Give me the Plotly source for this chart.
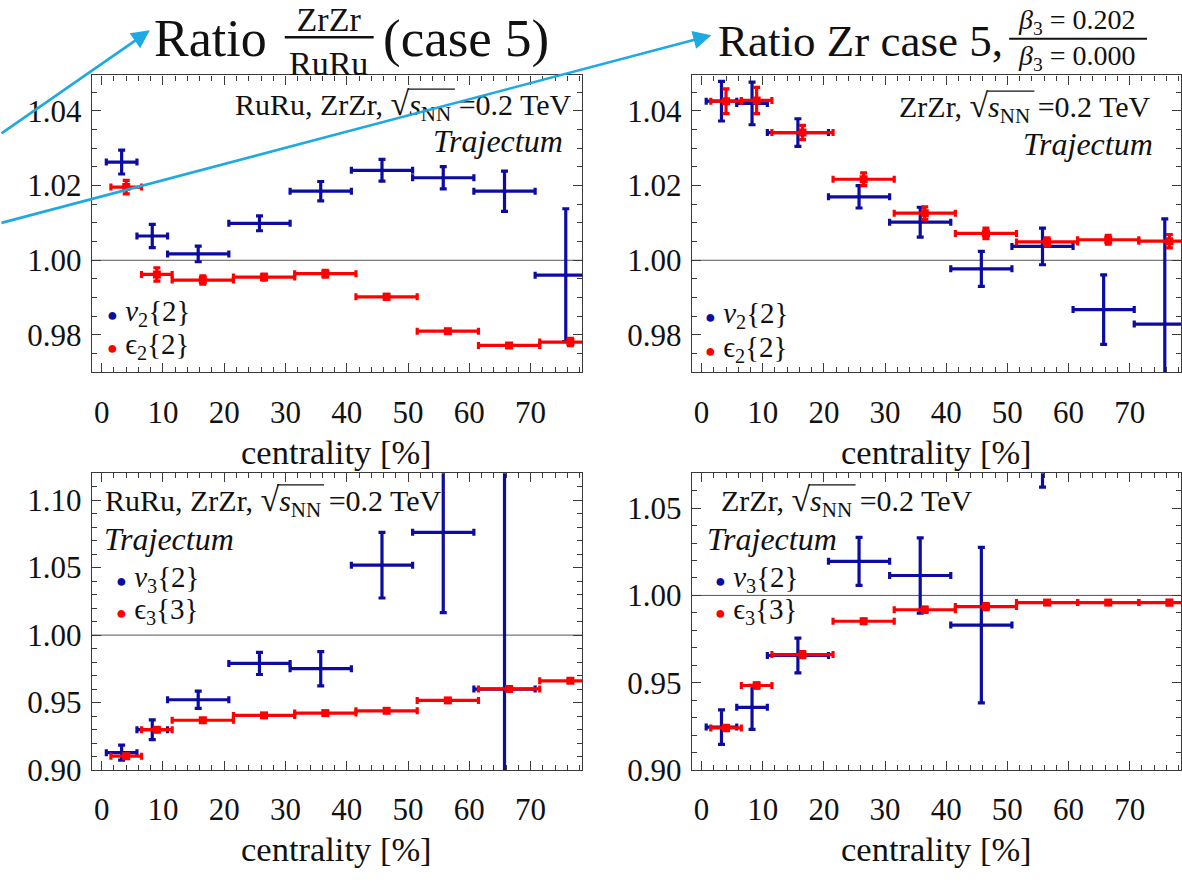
import plotly.graph_objects as go

W, H = 1182, 886
FONT = "Liberation Serif"
BLUE = "#0c0ca2"
RED = "#ff0000"
CYAN = "#1ea9e2"
FRAME = "#3a3a3a"

# ---------------- data ----------------
bin_lo = [0, 5, 10, 20, 30, 40, 50, 60, 70]
bin_hi = [5, 10, 20, 30, 40, 50, 60, 70, 80]

# ratio ZrZr/RuRu (case 5): v2{2} and eps2{2}
tl_v2 = [1.0263, 1.0065, 1.0017, 1.0099, 1.0185, 1.0241, 1.0221, 1.0185, 0.9960]
tl_v2_err = [0.0032, 0.0031, 0.0021, 0.0020, 0.0026, 0.0029, 0.0030, 0.0054, 0.0178]
tl_e2 = [1.0196, 0.9962, 0.9947, 0.9955, 0.9964, 0.9902, 0.9810, 0.9772, 0.9781]
tl_e2_err = [0.0018, 0.0018, 0.0011, 0.0008, 0.0009, 0.0007, 0.0005, 0.0004, 0.0010]

# ratio Zr case 5, beta3=0.202 / beta3=0.000: v2{2} and eps2{2}
tr_v2 = [1.0426, 1.0420, 1.0342, 1.0170, 1.0102, 0.9977, 1.0037, 0.9868, 0.9829]
tr_v2_err = [0.0053, 0.0057, 0.0037, 0.0030, 0.0040, 0.0047, 0.0049, 0.0093, 0.0282]
tr_e2 = [1.0426, 1.0428, 1.0342, 1.0217, 1.0126, 1.0072, 1.0049, 1.0055, 1.0051]
tr_e2_err = [0.0033, 0.0035, 0.0019, 0.0017, 0.0017, 0.0014, 0.0011, 0.0012, 0.0018]

# ratio ZrZr/RuRu (case 5): v3{2} and eps3{3}
bl_v3 = [0.9129, 0.9299, 0.9521, 0.9790, 0.9751, 1.0518, 1.0762, 0.9600, None]
bl_v3_err = [0.0056, 0.0073, 0.0064, 0.0082, 0.0127, 0.0243, 0.0595, 0.2000, None]
bl_e3 = [0.9103, 0.9299, 0.9369, 0.9405, 0.9422, 0.9439, 0.9516, 0.9601, 0.9661]
bl_e3_err = [0.0015, 0.0015, 0.0010, 0.0010, 0.0010, 0.0008, 0.0007, 0.0010, 0.0012]

# ratio Zr case 5: v3{2} and eps3{3}
br_v3 = [0.9246, 0.9359, 0.9656, 1.0195, 1.0114, 0.9830, 1.1050, None, None]
br_v3_err = [0.0099, 0.0126, 0.0100, 0.0137, 0.0215, 0.0445, 0.0430, None, None]
br_e3 = [0.9241, 0.9484, 0.9661, 0.9852, 0.9918, 0.9936, 0.9959, 0.9959, 0.9959]
br_e3_err = [0.0015, 0.0015, 0.0017, 0.0012, 0.0015, 0.0017, 0.0008, 0.0009, 0.0013]

x_ticks = [0, 10, 20, 30, 40, 50, 60, 70]
y_ticks_top = [0.98, 1.00, 1.02, 1.04]
y_ticks_bot = [0.90, 0.95, 1.00, 1.05, 1.10]
y_ticks_br = [0.90, 0.95, 1.00, 1.05]

# ---------------- layout helpers ----------------
V_SHIFT, E_SHIFT = 0.75, 1.5
mid = [(a + b) / 2 for a, b in zip(bin_lo, bin_hi)]
half = [(b - a) / 2 for a, b in zip(bin_lo, bin_hi)]


def px(x):
    return x / W


def py(y):
    return 1 - y / H


fig = go.Figure()


def add_series(vals, errs, shift, color, msym, msize, xa, ya):
    xs, ys, ex, ey = [], [], [], []
    for m, h, v, e in zip(mid, half, vals, errs):
        if v is None:
            continue
        xs.append(m + shift)
        ys.append(v)
        ex.append(h)
        ey.append(e)
    fig.add_trace(go.Scatter(
        x=xs, y=ys, mode="markers", xaxis=xa, yaxis=ya,
        marker=dict(color=color, size=msize, symbol=msym),
        error_x=dict(type="data", array=ex, color=color, thickness=3.2, width=3.5),
        error_y=dict(type="data", array=ey, color=color, thickness=3.2, width=3.5),
        showlegend=False, hoverinfo="skip"))


panels = [
    ("x", "y", tl_v2, tl_v2_err, tl_e2, tl_e2_err),
    ("x2", "y2", tr_v2, tr_v2_err, tr_e2, tr_e2_err),
    ("x3", "y3", bl_v3, bl_v3_err, bl_e3, bl_e3_err),
    ("x4", "y4", br_v3, br_v3_err, br_e3, br_e3_err),
]
for xa, ya, bv, bve, rv, rve in panels:
    add_series(bv, bve, V_SHIFT, BLUE, "circle", 4, xa, ya)
    add_series(rv, rve, E_SHIFT, RED, "square", 8, xa, ya)

tickfont = dict(family=FONT, size=31, color="#111111")


def xaxis(domain, anchor):
    return dict(domain=domain, anchor=anchor, range=[-1.6, 78.4],
                tickvals=x_ticks, ticktext=[str(t) for t in x_ticks],
                showline=True, linecolor=FRAME, linewidth=1.3, mirror="allticks",
                ticks="inside", ticklen=9, tickwidth=1.2, tickcolor=FRAME,
                minor=dict(dtick=2, tick0=0, ticks="inside", ticklen=5, tickcolor=FRAME, tickwidth=1),
                showgrid=False, zeroline=False, tickfont=tickfont, ticklabelstandoff=12)


def yaxis(domain, anchor, rng, tv, mdt):
    return dict(domain=domain, anchor=anchor, range=rng,
                tickvals=tv, ticktext=["%.2f" % t for t in tv],
                showline=True, linecolor=FRAME, linewidth=1.3, mirror="allticks",
                ticks="inside", ticklen=9, tickwidth=1.2, tickcolor=FRAME,
                minor=dict(dtick=mdt, tick0=0, ticks="inside", ticklen=5, tickcolor=FRAME, tickwidth=1),
                showgrid=False, zeroline=False, tickfont=tickfont, ticklabelstandoff=3)


XL = [px(92), px(582.5)]
XR = [px(692.4), 1.0]
YT = [py(380), py(77)]
YB = [py(786), py(483)]

fig.update_layout(
    width=W, height=H, margin=dict(l=0, r=0, t=0, b=0),
    paper_bgcolor="white", plot_bgcolor="white",
    xaxis=xaxis(XL, "y"), yaxis=yaxis(YT, "x", [0.97, 1.0495], y_ticks_top, 0.005),
    xaxis2=xaxis(XR, "y2"), yaxis2=yaxis(YT, "x2", [0.97, 1.0495], y_ticks_top, 0.005),
    xaxis3=xaxis(XL, "y3"), yaxis3=yaxis(YB, "x3", [0.90, 1.12], y_ticks_bot, 0.01),
    xaxis4=xaxis(XR, "y4"), yaxis4=yaxis(YB, "x4", [0.90, 1.07], y_ticks_br, 0.01),
)

shapes = []
# reference lines at 1
for xa in ["x", "x2", "x3", "x4"]:
    ya = "y" + xa[1:]
    shapes.append(dict(type="line", xref=xa + " domain", yref=ya, x0=0, x1=1, y0=1, y1=1,
                       line=dict(color="#555555", width=1), layer="below"))

ann = []


def text(x, y, s, size, xanchor="left", color="#111111"):
    ann.append(dict(x=px(x), y=py(y), xref="paper", yref="paper", text=s, showarrow=False,
                    xanchor=xanchor, yanchor="middle", align="center",
                    font=dict(family=FONT, size=size, color=color)))


def hline(x0, x1, y, width=1.3):
    shapes.append(dict(type="line", xref="paper", yref="paper", x0=px(x0), x1=px(x1),
                       y0=py(y), y1=py(y), line=dict(color="#111111", width=width)))


FS = 30
RAD = 34
sq = "<span style='font-size:%dpx'>√</span><i>s</i><sub>NN</sub> =0.2 TeV" % RAD
# approximate advance widths (em) of Times-metric glyphs
tail_w = 4.091 * FS
nn_w = 1.444 * FS * 0.7
s_w = 0.389 * FS
rad_w = 0.549 * RAD
pre_rr = 5.222 * FS   # "RuRu, ZrZr, "
pre_zz = 2.388 * FS   # "ZrZr, "


def overline_right(xr, yc):
    nn_end = xr - tail_w
    s0 = nn_end - nn_w - s_w
    hline(s0 - 1, nn_end + 4, yc - 17)


def overline_left(xl, pre, yc):
    s0 = xl + pre + rad_w
    hline(s0 - 1, s0 + s_w + nn_w + 4, yc - 17)


# top-left
text(574, 108, "RuRu, ZrZr, " + sq, FS, "right")
overline_right(574, 108)
text(565, 144, "<i>Trajectum</i>", 32, "right")
# top-right
text(1154, 110, "ZrZr, " + sq, FS, "right")
overline_right(1154, 110)
text(1156, 147, "<i>Trajectum</i>", 32, "right")
# bottom-left
text(103, 512, "RuRu, ZrZr, " + sq, FS, "left")
overline_left(103, pre_rr, 512)
text(102, 550, "<i>Trajectum</i>", 32, "left")
# bottom-right
text(720, 512, "ZrZr, " + sq, FS, "left")
overline_left(720, pre_zz, 512)
text(706, 550, "<i>Trajectum</i>", 32, "left")


def dot(c):
    return "<span style='font-size:18px;color:%s'>●</span>" % c


LF = 29
# legends
text(105, 320, dot(BLUE) + " <i>v</i><sub>2</sub>{2}", LF)
text(105, 353, dot(RED) + " ϵ<sub>2</sub>{2}", LF)
text(704, 322, dot(BLUE) + " <i>v</i><sub>2</sub>{2}", LF)
text(704, 356, dot(RED) + " ϵ<sub>2</sub>{2}", LF)
text(114, 591, dot(BLUE) + " <i>v</i><sub>3</sub>{2}", LF)
text(114, 624, dot(RED) + " ϵ<sub>3</sub>{3}", LF)
text(714, 591, dot(BLUE) + " <i>v</i><sub>3</sub>{2}", LF)
text(714, 624, dot(RED) + " ϵ<sub>3</sub>{3}", LF)

# axis titles
for cx in [337, 937]:
    text(cx, 461, "centrality [%]", 34.5, "center")
    text(cx, 867, "centrality [%]", 34.5, "center")

# titles
text(152, 39, "Ratio", 52)
text(329, 42, "ZrZr<br>RuRu", 34, "center")
text(381, 39, "(case 5)", 53)
hline(285, 374, 38, 2.5)

text(717, 42, "Ratio Zr case 5,", 45)
text(1078, 40.5, "<i>β</i><sub>3</sub> = 0.202<br><i>β</i><sub>3</sub> = 0.000", 28, "center")
hline(1010, 1148, 39.5, 2)

# arrows
for tip, tail in [((150, 31), (-5, 135)), ((712, 36), (-5, 224))]:
    ann.append(dict(x=px(tip[0]), y=py(tip[1]), xref="paper", yref="paper", text="",
                    showarrow=True, ax=tail[0] - tip[0], ay=tail[1] - tip[1], axref="pixel", ayref="pixel",
                    arrowhead=2, arrowsize=1.4, arrowwidth=2.6, arrowcolor=CYAN, standoff=0))

fig.update_layout(shapes=shapes, annotations=ann)
fig.write_html("out.html")
